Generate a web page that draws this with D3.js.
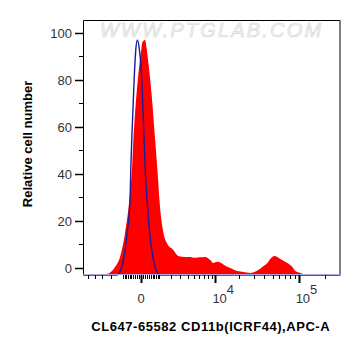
<!DOCTYPE html>
<html>
<head>
<meta charset="utf-8">
<script src="https://cdn.jsdelivr.net/npm/d3@7"></script>
<style>
  body { margin: 0; background: #fff; overflow: hidden; }
  svg { display: block; font-family: Arial, "Liberation Sans", sans-serif; }
</style>
</head>
<body>
<div id="container"></div>
<script>
// sample histogram (red, filled): channel value, relative count
const redX = [-3940, -2460, -1650, -1240, -880, -610, -450, -380, -290, -155, -24, 65, 184, 270, 353, 543, 744, 943, 1034, 1334, 1614, 2205, 2750, 3640, 4380, 5220, 6190, 7280, 8530, 9360, 10570, 11570, 13420, 15520, 18960, 22450, 27280, 33070, 37890, 43400, 48350, 52410, 56810, 61570, 74220, 84760, 91800, 104800, 119600];
const redCount = [-3, -2.6, 0.4, 4.7, 14.9, 28.9, 43, 54.5, 66, 80, 90.6, 96.2, 97, 92.8, 87.2, 72.8, 54.5, 37.4, 28.9, 14.9, 10.6, 7.7, 5.1, 4.7, 4.7, 4.3, 4.5, 4.7, 3.4, 2.1, 2.6, 2.3, 0.9, 0, -1.3, -1.7, -2.1, -1.1, 0.4, 2.1, 4.3, 5.1, 4.7, 3.8, 2.1, 0.4, -1.3, -2.1, -3];

// isotype control (blue outline)
const blueX = [-6000, -1500, -1110, -750, -570, -520, -470, -410, -340, -255, -174, -79, 29, 65, 136, 184, 285, 418, 638, 855, 1085, 300000];
const blueCount = [-3, -3, 0.4, 14.9, 28.9, 43, 54.5, 66, 80, 92.8, 97, 92.8, 80, 71.5, 54.5, 43, 28.9, 14.9, 3.4, -1.7, -3, -3];

// axes
const xMajorTicks = [0, 10000, 100000];
const xMajorBase = ["0", "10", "10"];
const xMajorExp = ["", "4", "5"];
const xMinorTicks = [-5000, -4000, -3000, -2000, -1000, -900, -800, -700, -600, -500, -400, -300, -200, -100,
  100, 200, 300, 400, 500, 600, 700, 800, 900, 1000, 2000, 3000, 4000, 5000, 6000, 7000, 8000, 9000,
  20000, 30000, 40000, 50000, 60000, 70000, 80000, 90000, 200000];
const yMajorTicks = [0, 20, 40, 60, 80, 100];
const yMinorTicks = [10, 30, 50, 70, 90];

const xTitle = "CL647-65582 CD11b(ICRF44),APC-A";
const yTitle = "Relative cell number";
const watermark = "WWW.PTGLAB.COM";

const width = 361;
const height = 356;
const margin = { top: 20, right: 20.5, bottom: 81, left: 83 };
const innerWidth = width - margin.left - margin.right;
const innerHeight = height - margin.top - margin.bottom;

const svg = d3.select("#container")
  .append("svg")
  .attr("width", width)
  .attr("height", height);

// scales
const scaleX = d3.scaleSymlog()
  .constant(1700)
  .domain([-6000, 300000])
  .range([0, innerWidth]);
const scaleY = d3.scaleLinear()
  .domain([-3, 105.5])
  .range([innerHeight, 0]);

const g = svg.append("g")
  .attr("transform", `translate(${margin.left}, ${margin.top})`);

// watermark
g.append("text")
  .attr("x", 17)
  .attr("y", 17)
  .attr("fill", "#f3f3f3")
  .attr("stroke", "#d6d6d6")
  .attr("stroke-width", 0.6)
  .style("font-size", "20px")
  .style("font-style", "italic")
  .style("letter-spacing", "2.2px")
  .text(watermark);

// marks
const redData = redX.map((x, i) => [x, redCount[i]]);
const blueData = blueX.map((x, i) => [x, blueCount[i]]);

g.append("path")
  .datum(redData)
  .attr("fill", "#ff0000")
  .attr("d", d3.area()
    .x(d => scaleX(d[0]))
    .y0(scaleY(-3))
    .y1(d => scaleY(d[1]))
    .curve(d3.curveMonotoneX));

g.append("path")
  .datum(blueData)
  .attr("fill", "none")
  .attr("stroke", "#1c1c9a")
  .attr("stroke-width", 1.4)
  .attr("d", d3.line()
    .x(d => scaleX(d[0]))
    .y(d => scaleY(d[1]))
    .curve(d3.curveMonotoneX));

// frame
g.append("path")
  .attr("fill", "none")
  .attr("stroke", "#000")
  .attr("stroke-width", 1)
  .attr("d", `M0.5,${innerHeight} V0.5 H${innerWidth - 0.5} V${innerHeight}`);
g.append("line")
  .attr("x1", 0).attr("x2", innerWidth)
  .attr("y1", innerHeight - 0.5).attr("y2", innerHeight - 0.5)
  .attr("stroke", "#aaa4dc")
  .attr("stroke-width", 1);

// y axis
const groupAxisY = g.append("g").attr("class", "groupAxisY");
groupAxisY.selectAll("line.major")
  .data(yMajorTicks)
  .join("line")
  .attr("class", "major")
  .attr("x1", -8).attr("x2", 0)
  .attr("y1", d => Math.round(scaleY(d)) + 0.5)
  .attr("y2", d => Math.round(scaleY(d)) + 0.5)
  .attr("stroke", "#000")
  .attr("stroke-width", 1.5);
groupAxisY.selectAll("line.minor")
  .data(yMinorTicks)
  .join("line")
  .attr("class", "minor")
  .attr("x1", -4).attr("x2", 0)
  .attr("y1", d => Math.round(scaleY(d)) + 0.5)
  .attr("y2", d => Math.round(scaleY(d)) + 0.5)
  .attr("stroke", "#000");
groupAxisY.selectAll("text")
  .data(yMajorTicks)
  .join("text")
  .attr("x", -11)
  .attr("y", d => scaleY(d))
  .attr("dy", "0.36em")
  .attr("text-anchor", "end")
  .attr("fill", "#333")
  .style("font-size", "13px")
  .text(d => d);

// x axis
const groupAxisX = g.append("g")
  .attr("class", "groupAxisX")
  .attr("transform", `translate(0, ${innerHeight})`);
groupAxisX.selectAll("line.minor")
  .data(xMinorTicks)
  .join("line")
  .attr("class", "minor")
  .attr("x1", d => Math.round(scaleX(d)) + 0.5)
  .attr("x2", d => Math.round(scaleX(d)) + 0.5)
  .attr("y1", 0).attr("y2", 4)
  .attr("stroke", "#000");
groupAxisX.selectAll("line.major")
  .data(xMajorTicks)
  .join("line")
  .attr("class", "major")
  .attr("x1", d => Math.round(scaleX(d)) + 0.5)
  .attr("x2", d => Math.round(scaleX(d)) + 0.5)
  .attr("y1", 0).attr("y2", 8)
  .attr("stroke", "#000")
  .attr("stroke-width", 2);
const labels = groupAxisX.selectAll("text")
  .data(xMajorTicks)
  .join("text")
  .attr("x", (d, i) => scaleX(d) + (xMajorExp[i] ? -3 : 0))
  .attr("y", 28)
  .attr("text-anchor", (d, i) => xMajorExp[i] ? "start" : "middle")
  .attr("fill", "#333")
  .style("font-size", "13px");
labels.append("tspan").text((d, i) => xMajorBase[i]);
labels.filter((d, i) => xMajorExp[i] !== "")
  .append("tspan")
  .attr("dy", -9)
  .text(d => xMajorExp[xMajorTicks.indexOf(d)]);

// titles
svg.append("text")
  .attr("x", margin.left + innerWidth / 2 - 1)
  .attr("y", 331)
  .attr("text-anchor", "middle")
  .style("font-size", "13px")
  .style("font-weight", "bold")
  .style("letter-spacing", "0.55px")
  .text(xTitle);
svg.append("text")
  .attr("transform", `translate(32, 144) rotate(-90)`)
  .attr("text-anchor", "middle")
  .style("font-size", "13px")
  .style("font-weight", "bold")
  .text(yTitle);
</script>
</body>
</html>
